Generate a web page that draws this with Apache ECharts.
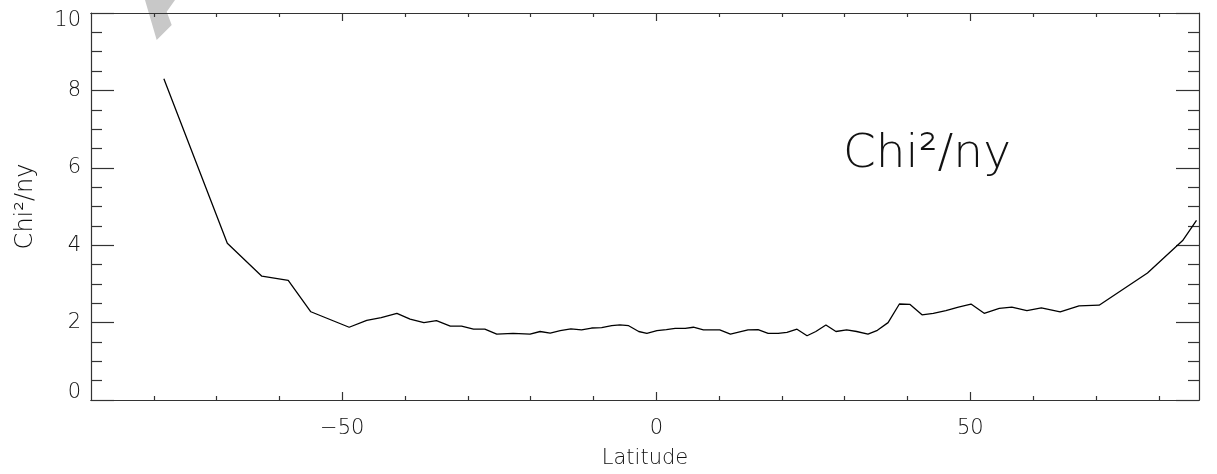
<!DOCTYPE html>
<html>
<head>
<meta charset="utf-8">
<script src="https://cdn.jsdelivr.net/npm/echarts@6/dist/echarts.min.js"></script>
<style>html,body{margin:0;padding:0;background:#fff}#c{width:1217px;height:474px}</style>
</head>
<body>
<div id="c"></div>
<script>
const latitude = [-78.4,-68.3,-62.8,-58.6,-55.0,-48.9,-46.1,-43.8,-41.3,-39.2,-37.0,-35.0,-32.8,-31.0,-29.1,-27.3,-25.4,-22.8,-20.1,-18.5,-16.9,-15.3,-13.6,-11.9,-10.3,-8.7,-7.1,-5.8,-4.4,-2.8,-1.5,0.1,1.6,3.0,4.6,5.9,7.5,10.1,11.8,14.6,16.2,17.8,19.4,20.8,22.4,24.0,25.4,27.0,28.6,30.3,31.9,33.7,35.2,36.9,38.7,40.4,42.3,44.1,46.1,48.1,50.1,52.2,54.6,56.6,59.0,61.3,64.3,67.3,70.5,78.2,83.8,86.0];
const chi2ny = [8.30,4.05,3.20,3.09,2.28,1.88,2.06,2.13,2.24,2.09,2.00,2.05,1.91,1.91,1.83,1.83,1.70,1.72,1.70,1.77,1.73,1.79,1.84,1.81,1.86,1.87,1.92,1.94,1.92,1.77,1.72,1.79,1.82,1.85,1.85,1.88,1.81,1.81,1.70,1.81,1.82,1.72,1.72,1.75,1.83,1.66,1.77,1.94,1.77,1.81,1.77,1.70,1.80,2.00,2.48,2.47,2.20,2.24,2.31,2.40,2.48,2.24,2.37,2.40,2.31,2.38,2.28,2.43,2.45,3.28,4.12,4.64];
const xMajorTicks = [-50, 0, 50];
const xMinorTicks = [-80,-70,-60,-40,-30,-20,-10,10,20,30,40,60,70,80];
const xRange = [-90, 86.4];
const yRange = [0, 10];
const xTitle = 'Latitude';
const yTitle = 'Chi\u00B2/ny';
const annotation = 'Chi\u00B2/ny';

const FONT = "'DejaVu Sans', sans-serif";
const AX = '#333';
const TXT = '#111';
const chart = echarts.init(document.getElementById('c'), null, {renderer: 'canvas'});

function xAxisDef(pos, ticks, len, labels, name) {
  return {
    type: 'value', position: pos, min: xRange[0], max: xRange[1],
    axisLine: {show: true, onZero: false, lineStyle: {color: AX, width: 1.2}},
    axisTick: {show: true, inside: true, length: len, customValues: ticks, lineStyle: {color: AX, width: 1.2}},
    axisLabel: labels ? {show: true, customValues: ticks, margin: 18, color: TXT, fontFamily: FONT, fontWeight: 200, fontSize: 21,
      formatter: v => (v < 0 ? '\u2212' + Math.abs(v) : String(v))} : {show: false},
    splitLine: {show: false},
    name: name || '', nameLocation: 'middle', nameGap: 48,
    nameTextStyle: {color: TXT, fontFamily: FONT, fontWeight: 200, fontSize: 21}
  };
}
function yAxisDef(pos, labels, name) {
  return {
    type: 'value', position: pos, min: yRange[0], max: yRange[1], interval: 2,
    axisLine: {show: true, onZero: false, lineStyle: {color: AX, width: 1.2}},
    axisTick: {show: true, inside: true, length: 23, lineStyle: {color: AX, width: 1.2}},
    minorTick: {show: true, splitNumber: 4, length: 11, lineStyle: {color: AX, width: 1.2}},
    axisLabel: labels ? {show: true, margin: 10, color: TXT, fontFamily: FONT, fontWeight: 200, fontSize: 21,
      formatter: v => v === yRange[1] ? '{top|' + v + '}' : (v === yRange[0] ? '{bot|' + v + '}' : String(v)),
      rich: {
        top: {padding: [16, 0, 0, 0], color: TXT, fontFamily: FONT, fontWeight: 200, fontSize: 21},
        bot: {padding: [0, 0, 15, 0], color: TXT, fontFamily: FONT, fontWeight: 200, fontSize: 21}
      }} : {show: false},
    splitLine: {show: false}, minorSplitLine: {show: false},
    name: name || '', nameLocation: 'middle', nameGap: 53,
    nameTextStyle: {color: TXT, fontFamily: FONT, fontWeight: 200, fontSize: 24}
  };
}

chart.setOption({
  animation: false,
  backgroundColor: '#fff',
  grid: {left: 91, right: 18, top: 13, bottom: 72, containLabel: false},
  xAxis: [
    xAxisDef('bottom', xMajorTicks, 8, true, xTitle),
    xAxisDef('bottom', xMinorTicks, 4, false),
    xAxisDef('top', xMajorTicks, 8, false),
    xAxisDef('top', xMinorTicks, 4, false)
  ],
  yAxis: [
    yAxisDef('left', true, yTitle),
    yAxisDef('right', false)
  ],
  graphic: [
    {type: 'polygon', z: -10, silent: true,
     shape: {points: [[145,0],[175,0],[166.7,11.7],[171.7,25],[156.7,40]]},
     style: {fill: '#c8c8c8'}},
    {type: 'text', x: 843, y: 155, z: 10, silent: true,
     style: {text: annotation, fill: TXT, font: "200 47px 'DejaVu Sans', sans-serif", verticalAlign: 'middle', align: 'left'}}
  ],
  series: [{
    type: 'line', xAxisIndex: 0, yAxisIndex: 0,
    data: latitude.map((x, i) => [x, chi2ny[i]]),
    showSymbol: false, symbol: 'none',
    lineStyle: {color: '#000', width: 1.3},
    clip: true
  }]
});
</script>
</body>
</html>
